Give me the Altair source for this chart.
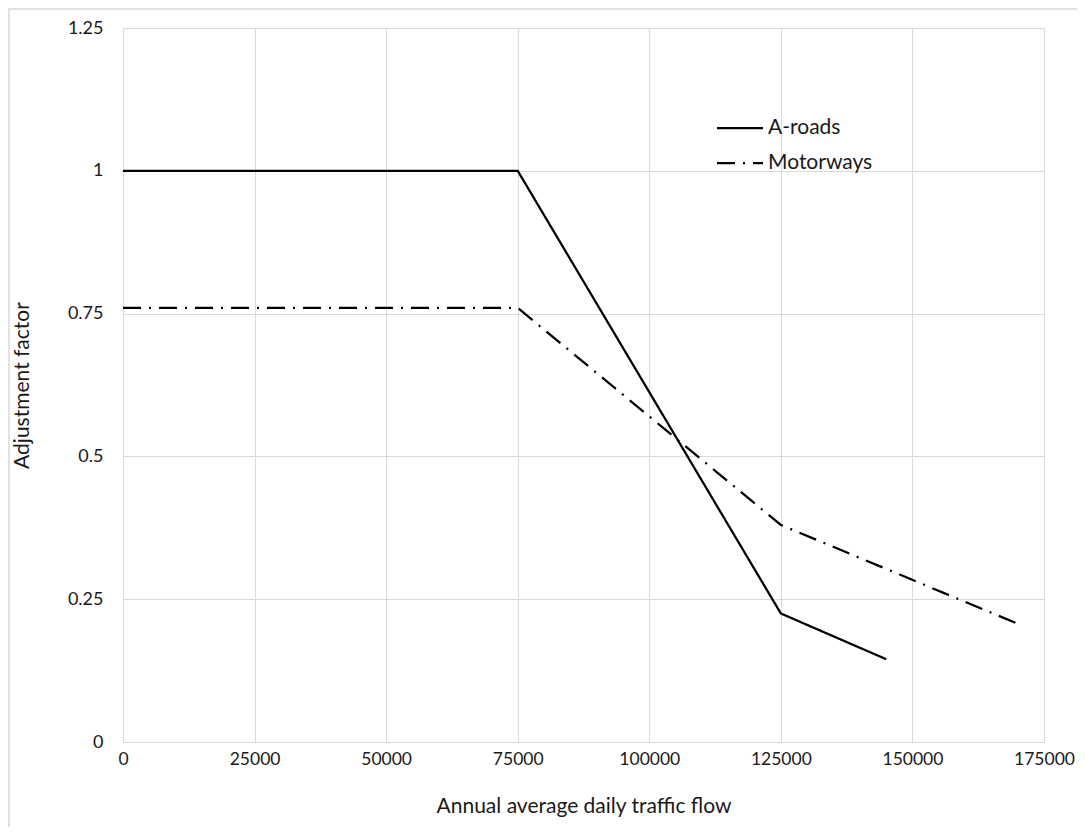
import altair as alt
import pandas as pd

# Data
a_roads_x = [0, 75000, 125000, 145000]
a_roads_y = [1.0, 1.0, 0.225, 0.145]
motorways_x = [0, 75000, 125000, 170000]
motorways_y = [0.76, 0.76, 0.38, 0.207]
series_names = ["A-roads", "Motorways"]
x_ticks = [0, 25000, 50000, 75000, 100000, 125000, 150000, 175000]
y_ticks = [0, 0.25, 0.5, 0.75, 1, 1.25]

rows = []
for i, (x, y) in enumerate(zip(a_roads_x, a_roads_y)):
    rows.append({"flow": x, "factor": y, "road": series_names[0], "order": i})
for i, (x, y) in enumerate(zip(motorways_x, motorways_y)):
    rows.append({"flow": x, "factor": y, "road": series_names[1], "order": i})
df = pd.DataFrame(rows)

FONT = "Lato"
GRID = "#d9d9d9"
TXT = "#1a1a1a"
W, H = 921, 714

lines = alt.Chart(df).mark_line(color="black", strokeWidth=2.25, strokeCap="butt").encode(
    x=alt.X("flow:Q",
            scale=alt.Scale(domain=[0, 175000], nice=False, zero=True),
            axis=alt.Axis(values=x_ticks, format="d", title="Annual average daily traffic flow",
                          grid=True, gridColor=GRID, gridWidth=1, domain=False, ticks=False,
                          labelFlush=False, labelOverlap=False,
                          labelPadding=8, labelFontSize=17.5, labelColor=TXT,
                          titleFontSize=21, titleFontWeight="normal", titleColor=TXT,
                          titleX=W / 2, titleY=64, titleBaseline="middle", titleAlign="center")),
    y=alt.Y("factor:Q",
            scale=alt.Scale(domain=[0, 1.25], nice=False),
            axis=alt.Axis(values=y_ticks, title="Adjustment factor",
                          labelExpr="datum.value == 0 ? '0' : format(datum.value, '~g')",
                          grid=True, gridColor=GRID, gridWidth=1, domain=False, ticks=False,
                          labelFlush=False, labelOverlap=False,
                          labelPadding=20, labelFontSize=18, labelColor=TXT,
                          titleFontSize=21, titleFontWeight="normal", titleColor=TXT,
                          titleX=-101, titleY=H / 2, titleAngle=270, titleBaseline="middle",
                          titleAlign="center")),
    strokeDash=alt.StrokeDash("road:N",
                              scale=alt.Scale(domain=series_names, range=[[1, 0], [18, 8, 2, 8]]),
                              legend=alt.Legend(title=None, orient="none", legendX=604, legendY=87,
                                                symbolType="M-2,0H2", symbolSize=529,
                                                symbolStrokeWidth=2.25, symbolStrokeColor="black",
                                                labelFontSize=21, labelColor=TXT, labelOffset=15,
                                                rowPadding=12, padding=0)),
    order="order:Q",
)

border = alt.Chart(pd.DataFrame({"a": [0]})).mark_rect(
    filled=False, stroke=GRID, strokeWidth=1.5, clip=False
).encode(
    x=alt.value(-114), x2=alt.value(1100), y=alt.value(-19), y2=alt.value(900)
)

chart = alt.layer(border, lines).properties(
    width=W, height=H,
    autosize=alt.AutoSizeParams(type="none"),
    padding={"left": 115, "top": 20, "right": 33, "bottom": 85},
).configure(font=FONT).configure_view(stroke=None)

chart.save("out.html", embed_options={"renderer": "svg", "actions": False})
